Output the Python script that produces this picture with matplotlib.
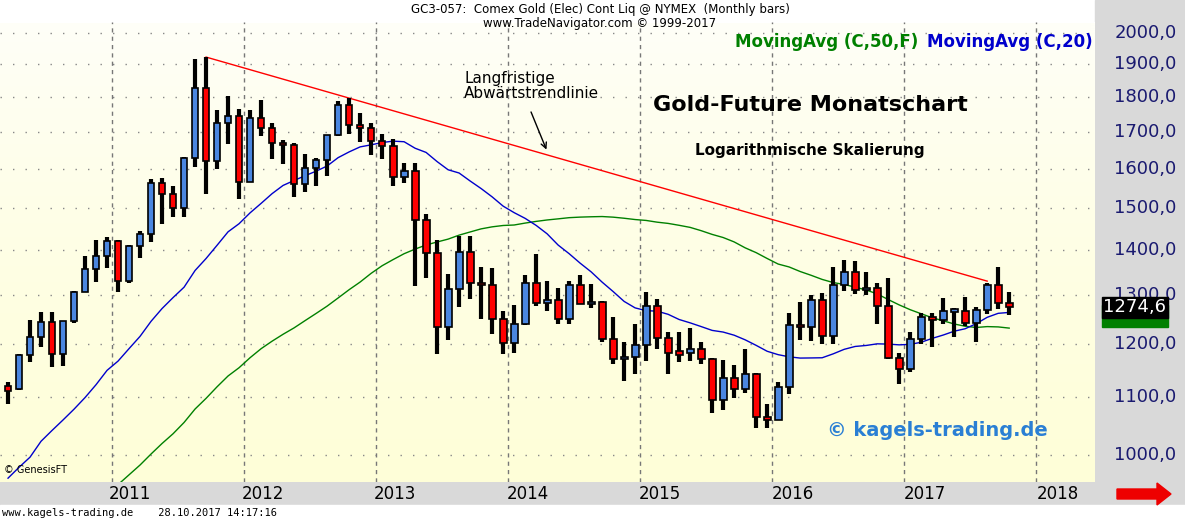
import matplotlib
matplotlib.use("Agg")
import matplotlib.pyplot as plt
import matplotlib.patches as mpatches
import numpy as np
import pandas as pd

# monthly bars Mar 2010 .. Oct 2017 (open, high, low, close)
opens = [1118, 1115, 1179, 1214, 1245, 1181, 1247, 1308, 1358, 1386,
         1421, 1332, 1410, 1439, 1563, 1536, 1502, 1628, 1828, 1620, 1725, 1746,
         1566, 1740, 1711, 1669, 1664, 1561, 1604, 1623, 1692, 1776, 1719, 1712,
         1675, 1663, 1578, 1596, 1472, 1393, 1234, 1314, 1396, 1327, 1323, 1250,
         1202, 1240, 1326, 1284, 1291, 1250, 1322, 1282, 1286, 1210, 1171, 1175,
         1199, 1278, 1213, 1183, 1182, 1190, 1172, 1095, 1135, 1114, 1142, 1065,
         1060, 1118, 1238, 1234, 1291, 1217, 1322, 1351, 1312, 1317, 1277, 1173,
         1152, 1210, 1254, 1249, 1268, 1268, 1242, 1269, 1322, 1283]
highs = [1127, 1180, 1249, 1266, 1265, 1240, 1310, 1388, 1424, 1432,
         1424, 1412, 1446, 1575, 1577, 1556, 1632, 1917, 1923, 1764, 1804, 1766,
         1764, 1792, 1727, 1678, 1669, 1640, 1630, 1692, 1790, 1798, 1755, 1726,
         1696, 1682, 1617, 1616, 1487, 1424, 1347, 1434, 1434, 1362, 1361, 1267,
         1280, 1345, 1392, 1331, 1315, 1332, 1345, 1324, 1288, 1255, 1204, 1240,
         1307, 1293, 1224, 1225, 1232, 1205, 1174, 1170, 1160, 1191, 1145, 1088,
         1127, 1263, 1287, 1302, 1306, 1362, 1377, 1375, 1352, 1327, 1337, 1183,
         1225, 1264, 1264, 1295, 1274, 1296, 1275, 1328, 1362, 1307]
lows = [1087, 1113, 1165, 1195, 1155, 1157, 1242, 1313, 1330, 1359,
        1308, 1327, 1382, 1420, 1462, 1478, 1480, 1606, 1535, 1600, 1668, 1523,
        1575, 1690, 1627, 1612, 1527, 1540, 1555, 1581, 1690, 1694, 1672, 1636,
        1626, 1555, 1565, 1321, 1338, 1180, 1208, 1275, 1292, 1251, 1221, 1180,
        1182, 1238, 1277, 1268, 1240, 1241, 1284, 1273, 1204, 1161, 1130, 1142,
        1167, 1191, 1142, 1166, 1168, 1162, 1072, 1077, 1098, 1107, 1046, 1046,
        1062, 1106, 1208, 1206, 1200, 1200, 1310, 1304, 1302, 1241, 1171, 1124,
        1146, 1200, 1194, 1241, 1214, 1236, 1205, 1262, 1271, 1260]
closes = [1115, 1179, 1214, 1245, 1181, 1246, 1307, 1357, 1386, 1421,
          1332, 1410, 1439, 1563, 1536, 1502, 1628, 1828, 1620, 1725, 1746, 1566,
          1740, 1711, 1669, 1664, 1561, 1604, 1623, 1692, 1776, 1719, 1712, 1675,
          1663, 1578, 1596, 1472, 1393, 1234, 1314, 1396, 1327, 1323, 1250, 1202,
          1240, 1326, 1284, 1291, 1250, 1322, 1282, 1286, 1210, 1171, 1175, 1199,
          1278, 1213, 1183, 1182, 1190, 1172, 1095, 1135, 1114, 1142, 1065, 1060,
          1118, 1238, 1234, 1291, 1217, 1322, 1351, 1312, 1317, 1277, 1173, 1152,
          1210, 1254, 1249, 1268, 1268, 1242, 1269, 1322, 1283, 1274.6]
# monthly closes Jan 2006 .. Feb 2010 (history for the moving averages)
prior_closes = [569, 557, 584, 654, 645, 616, 634, 626, 600, 605, 648, 635,
                653, 666, 663, 680, 660, 650, 666, 673, 743, 789, 783, 838,
                928, 975, 917, 865, 886, 930, 914, 833, 884, 718, 814, 884,
                928, 942, 916, 887, 979, 927, 954, 955, 1008, 1040, 1182, 1096,
                1081, 1118]
years = ["2011", "2012", "2013", "2014", "2015", "2016", "2017", "2018"]
y_ticks = [1000, 1100, 1200, 1300, 1400, 1500, 1600, 1700, 1800, 1900, 2000]
# trendline anchors: (bar index, price)
trend_pts = [(18, 1923), (89, 1331)]

n = len(closes)
idx = np.arange(n)
allc = pd.Series(prior_closes + closes)
ma20 = allc.rolling(20).mean().values[len(prior_closes):]
ma50 = allc.rolling(50).mean().values[len(prior_closes):]

W, H = 1185, 520
fig = plt.figure(figsize=(W / 100, H / 100), dpi=100)
fig.patch.set_facecolor("white")

# right grey panel and bottom band
fig.add_artist(mpatches.Rectangle((1095 / W, 0), 90 / W, 1, transform=fig.transFigure,
                                  color="#d9d9d9", zorder=0))
fig.add_artist(mpatches.Rectangle((0, 0), 1, 38 / H, transform=fig.transFigure,
                                  color="#d9d9d9", zorder=0))
fig.add_artist(mpatches.Rectangle((0, 0), 1, 15 / H, transform=fig.transFigure,
                                  color="white", zorder=0))

ax = fig.add_axes([0, 38 / H, 1095 / W, 460 / H])
ax.set_yscale("log")
ax.set_xlim(-0.73, 98.8)
ax.set_ylim(957, 2037)

# background gradient
grad = np.linspace(0, 1, 256).reshape(-1, 1)
cmap = matplotlib.colors.LinearSegmentedColormap.from_list("bg", ["#fefed8", "#fffff8"])
ax.imshow(grad, aspect="auto", cmap=cmap, origin="lower",
          extent=[-0.73, 98.8, 957, 2037], zorder=0)

for t in y_ticks:
    ax.axhline(t, color="#888888", lw=1, ls=(0, (1, 8)), zorder=1)
for k in range(len(years)):
    ax.axvline(9.45 + 12 * k, color="#777777", lw=1, ls=(0, (3, 3)), zorder=1)

ax.plot(idx, ma50, color="#008000", lw=1, zorder=2)
ax.plot(idx, ma20, color="#0000cc", lw=1, zorder=2)
ax.plot([p[0] for p in trend_pts], [p[1] for p in trend_pts], color="#ff0000", lw=1, zorder=2)

bw = 0.62
for i in idx:
    o, h, l, c = opens[i], highs[i], lows[i], closes[i]
    ax.vlines(i, l, h, color="black", lw=3, zorder=3)
    col = "#4a86e0" if c >= o else "#ff0000"
    lo, hi = min(o, c), max(o, c)
    if hi - lo < 4:
        lo, hi = lo - 3, hi + 3
    ax.add_patch(mpatches.Rectangle((i - bw / 2, lo), bw, hi - lo, facecolor=col,
                                    edgecolor="black", lw=1.2, zorder=4))

ax.set_xticks([])
ax.set_yticks([])
ax.minorticks_off()
for s in ax.spines.values():
    s.set_visible(False)

# right axis labels
for t in y_ticks:
    ax.annotate(f"{t},0", xy=(1.0, t), xycoords=("axes fraction", "data"),
                xytext=(14, 0), textcoords="offset points", ha="left", va="center",
                fontsize=13, color="#1a1a70", annotation_clip=False)
last = closes[-1]
last_txt = f"{last:.1f}".replace(".", ",")
# green MA box peeking out below the black last-price box
ax.annotate(last_txt, xy=(1.0, last), xycoords=("axes fraction", "data"),
            xytext=(6, -6), textcoords="offset points", ha="left", va="center",
            fontsize=13, color="#008000", annotation_clip=False,
            bbox=dict(boxstyle="square,pad=0.1", fc="#008000", ec="#008000"))
ax.annotate(last_txt, xy=(1.0, last), xycoords=("axes fraction", "data"),
            xytext=(6, 0), textcoords="offset points", ha="left", va="center",
            fontsize=13, color="white", annotation_clip=False,
            bbox=dict(boxstyle="square,pad=0.1", fc="black", ec="black"))

# year labels in bottom band
for k, y in enumerate(years):
    fig.text((130 + 132.5 * k) / W, 26 / H, y, ha="center", va="center", fontsize=12)

# header
fig.text(600 / W, 510 / H, "GC3-057:  Comex Gold (Elec) Cont Liq @ NYMEX  (Monthly bars)",
         ha="center", va="center", fontsize=8.5)
fig.text(600 / W, 496 / H, "www.TradeNavigator.com © 1999-2017", ha="center", va="center", fontsize=8.5)
fig.text(735 / W, 478 / H, "MovingAvg (C,50,F)", color="#008000", fontsize=12,
         fontweight="bold", va="center")
fig.text(927 / W, 478 / H, "MovingAvg (C,20)", color="#0000cc", fontsize=12,
         fontweight="bold", va="center")

ax.text(0.74, 0.82, "Gold-Future Monatschart", transform=ax.transAxes, fontsize=16,
        fontweight="bold", ha="center", va="center")
ax.text(0.74, 0.72, "Logarithmische Skalierung", transform=ax.transAxes, fontsize=11,
        fontweight="bold", ha="center", va="center")
ax.text(0.424, 0.86, "Langfristige\nAbwärtstrendlinie", transform=ax.transAxes, fontsize=11,
        ha="left", va="center", linespacing=1.0)
ax.annotate("", xy=(0.5, 0.717), xytext=(0.484, 0.81), xycoords="axes fraction",
            arrowprops=dict(arrowstyle="->", color="black", lw=1))
ax.text(0.755, 0.113, "© kagels-trading.de", transform=ax.transAxes, fontsize=14,
        fontweight="bold", color="#2a7fd4", ha="left", va="center")
ax.text(0.004, 0.015, "© GenesisFT", transform=ax.transAxes, fontsize=7, ha="left", va="bottom")

fig.text(2 / W, 7 / H, "www.kagels-trading.de    28.10.2017 14:17:16",
         fontfamily="DejaVu Sans Mono", fontsize=7.5, va="center")
fig.add_artist(mpatches.FancyArrow(1117 / W, 26 / H, 40 / W, 0, width=10 / H,
                                   head_width=22 / H, head_length=14 / W,
                                   transform=fig.transFigure, color="#ee0000"))

fig.savefig("out.png", dpi=100)
